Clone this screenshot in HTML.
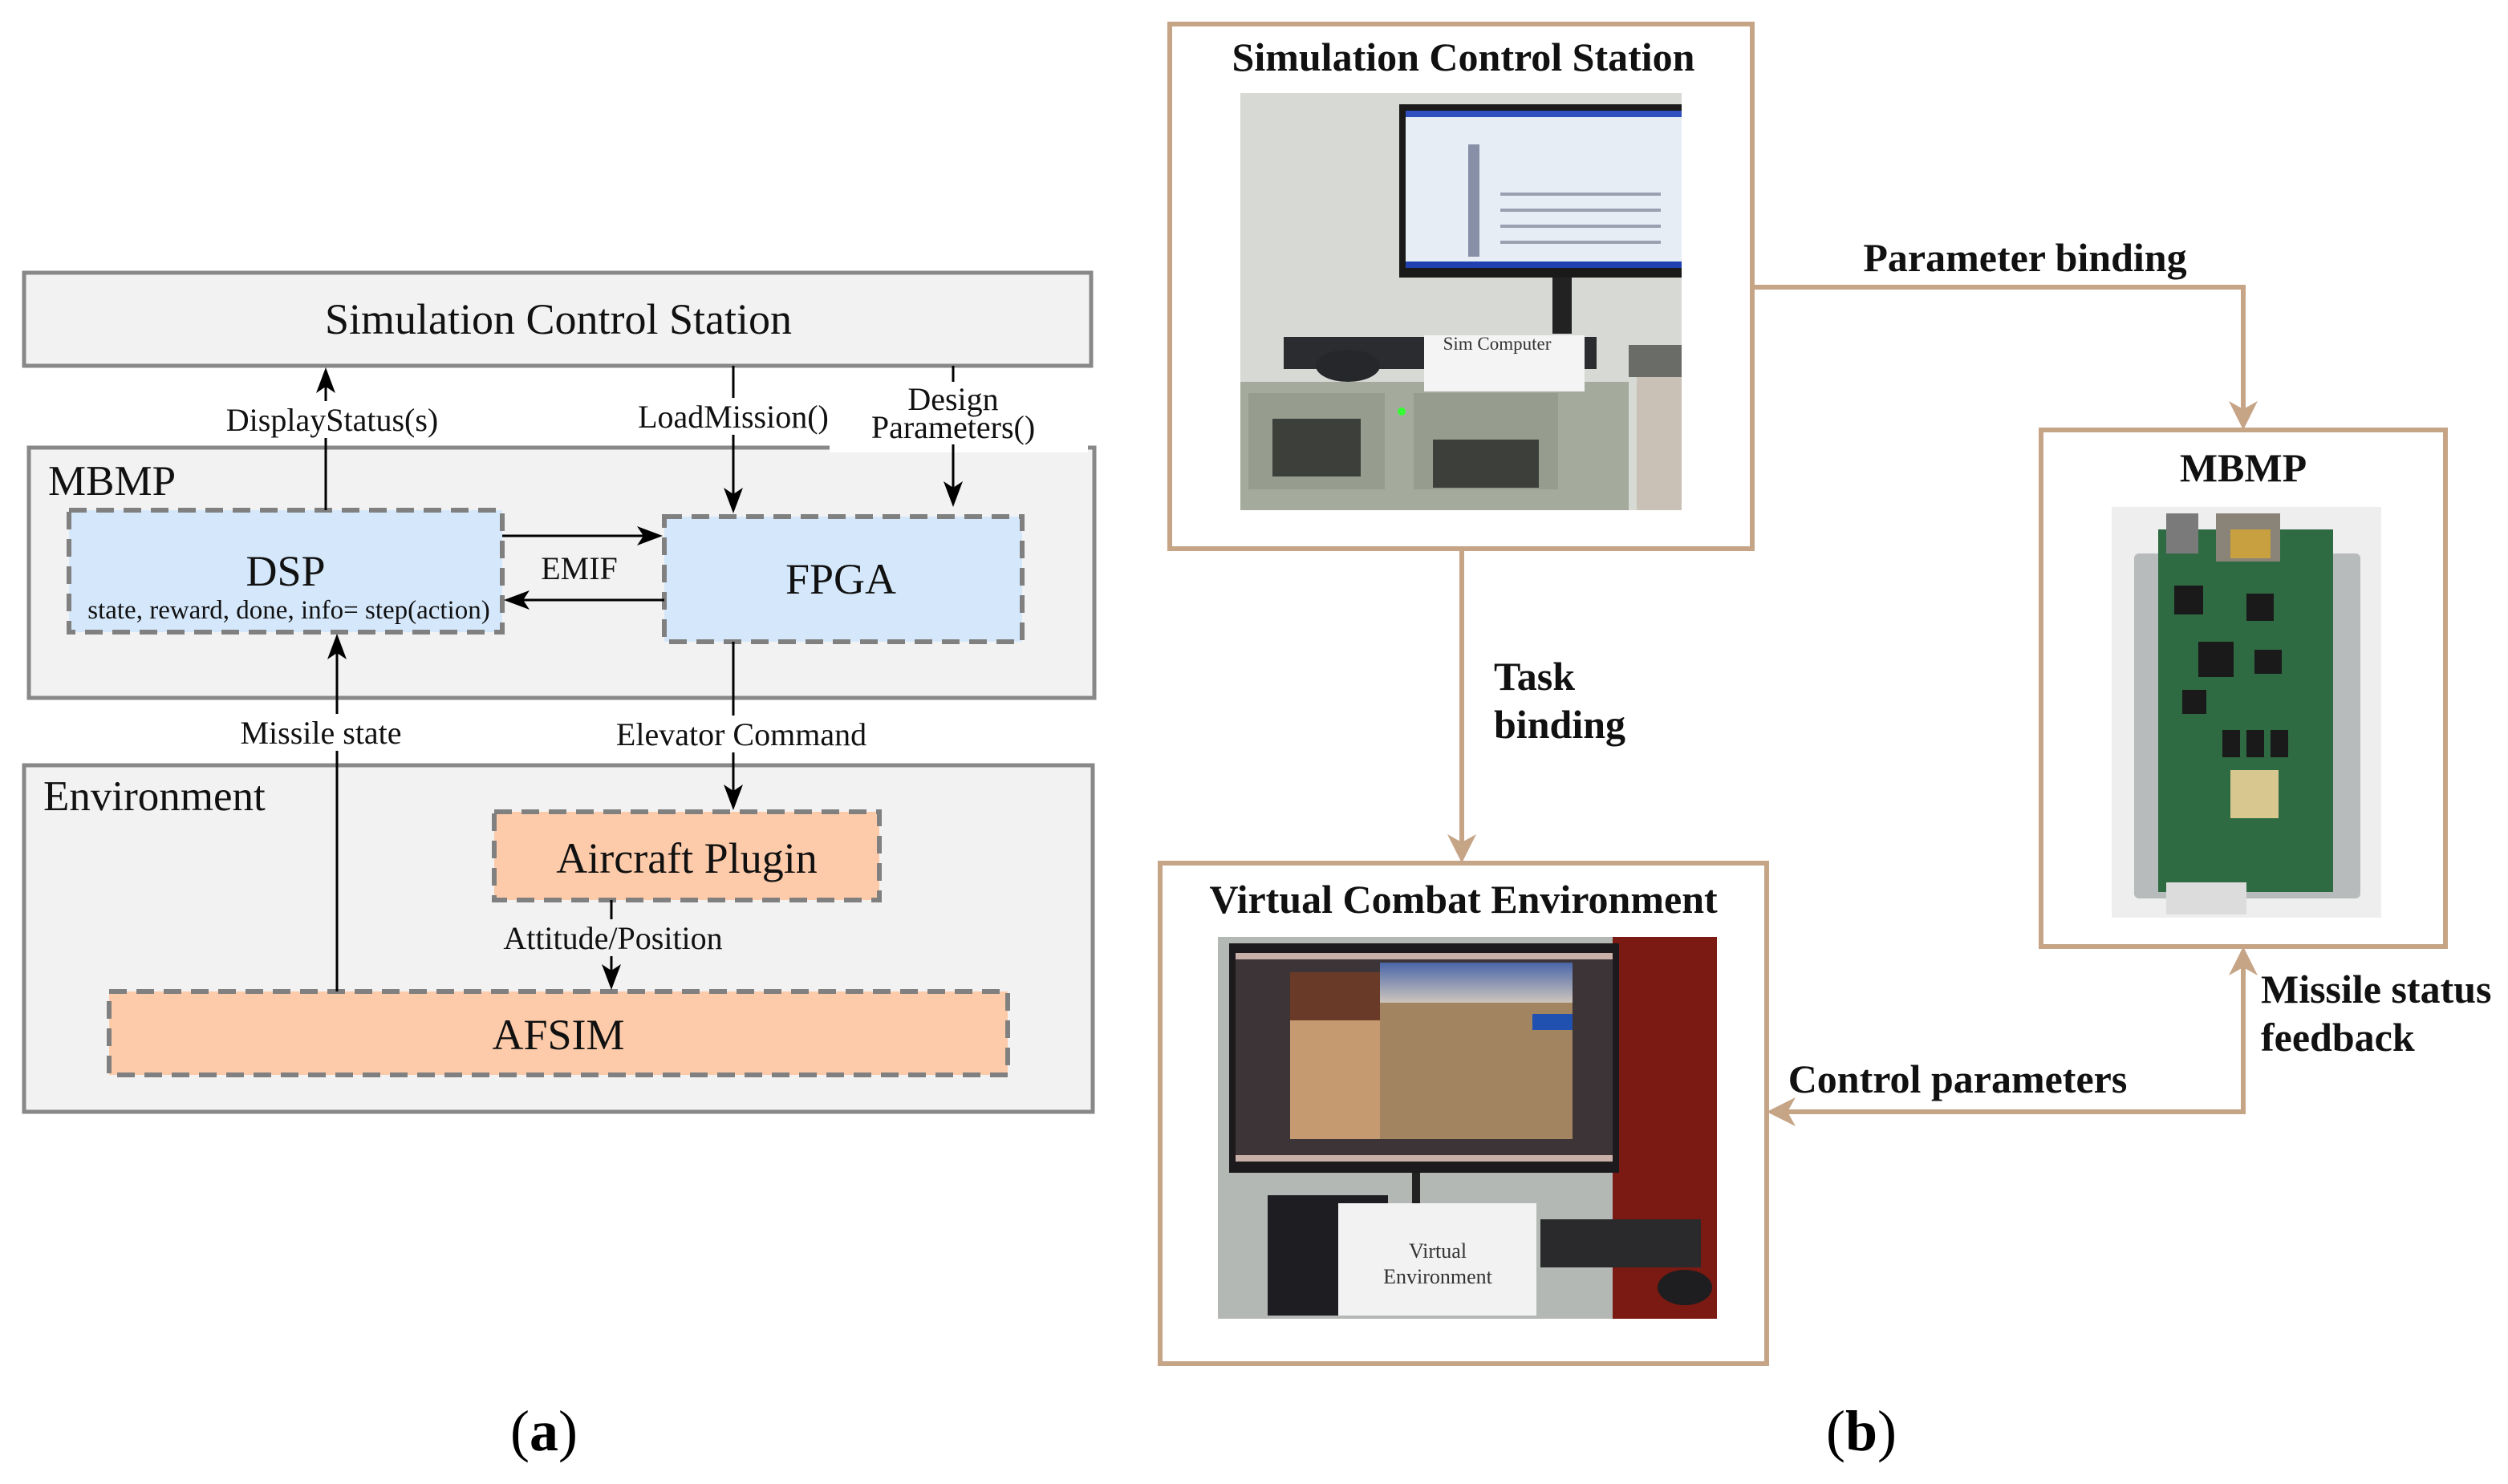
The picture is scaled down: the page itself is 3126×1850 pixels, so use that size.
<!DOCTYPE html>
<html><head><meta charset="utf-8"><style>html,body{margin:0;padding:0;background:#fff}svg{display:block}</style></head><body>
<svg width="3126" height="1850" viewBox="0 0 3126 1850" xmlns="http://www.w3.org/2000/svg" font-family="'Liberation Serif', serif">
<!-- LEFT PANEL -->
<g stroke="#888" stroke-width="5" fill="#f2f2f2">
<rect x="30" y="340" width="1330" height="116"/>
<rect x="36" y="558" width="1328" height="312"/>
<rect x="30" y="954" width="1332" height="432"/>
</g>
<rect x="1034" y="550" width="322" height="14" fill="#fff"/>
<g stroke="#808080" stroke-width="6" stroke-dasharray="22,12">
<rect x="86" y="636" width="540" height="152" fill="#d5e8fb"/>
<rect x="828" y="644" width="446" height="156" fill="#d5e8fb"/>
<rect x="616" y="1012" width="480" height="110" fill="#fdcbaa"/>
<rect x="136" y="1236" width="1120" height="104" fill="#fdcbaa"/>
</g>
<g stroke="#000" stroke-width="3" fill="none">
<line x1="406" y1="636" x2="406" y2="462"/>
<line x1="914" y1="456" x2="914" y2="636"/>
<line x1="1188" y1="456" x2="1188" y2="628"/>
<line x1="626" y1="668" x2="822" y2="668"/>
<line x1="828" y1="748" x2="632" y2="748"/>
<line x1="420" y1="1236" x2="420" y2="794"/>
<line x1="914" y1="800" x2="914" y2="1006"/>
<line x1="762" y1="1122" x2="762" y2="1230"/>
</g>
<g fill="#000">
<path d="M406 458 L394 490 L406 482 L418 490Z"/>
<path d="M914 640 L902 608 L914 616 L926 608Z"/>
<path d="M1188 632 L1176 600 L1188 608 L1200 600Z"/>
<path d="M826 668 L794 656 L802 668 L794 680Z"/>
<path d="M628 748 L660 736 L652 748 L660 760Z"/>
<path d="M420 790 L408 822 L420 814 L432 822Z"/>
<path d="M914 1010 L902 978 L914 986 L926 978Z"/>
<path d="M762 1234 L750 1202 L762 1210 L774 1202Z"/>
</g>
<g fill="#fff">
<rect x="270" y="500" width="290" height="46"/>
<rect x="780" y="496" width="270" height="46"/>
<rect x="1066" y="476" width="244" height="78"/>
<rect x="290" y="890" width="220" height="46"/>
<rect x="756" y="892" width="336" height="46"/>
</g>
<rect x="616" y="1146" width="296" height="46" fill="#f2f2f2"/>
<g font-size="54" text-anchor="middle" fill="#111">
<text x="696" y="416">Simulation Control Station</text>
<text x="356" y="730">DSP</text>
<text x="1048" y="740">FPGA</text>
<text x="856" y="1088">Aircraft Plugin</text>
<text x="696" y="1308">AFSIM</text>
</g>
<g font-size="53" fill="#111">
<text x="60" y="617">MBMP</text>
<text x="54" y="1010">Environment</text>
</g>
<g font-size="40" text-anchor="middle" fill="#111">
<text x="414" y="537">DisplayStatus(s)</text>
<text x="914" y="533">LoadMission()</text>
<text x="1188" y="511">Design</text>
<text x="1188" y="546">Parameters()</text>
<text x="722" y="722">EMIF</text>
<text x="400" y="927">Missile state</text>
<text x="924" y="929">Elevator Command</text>
<text x="764" y="1183">Attitude/Position</text>
</g>
<text x="360" y="771" font-size="33" text-anchor="middle" fill="#111">state, reward, done, info= step(action)</text>
<text x="678" y="1808" font-size="72" text-anchor="middle">(<tspan font-weight="bold">a</tspan>)</text>
<text x="2320" y="1808" font-size="72" text-anchor="middle">(<tspan font-weight="bold">b</tspan>)</text>

<!-- RIGHT PANEL -->
<g stroke="#c6a486" stroke-width="6" fill="none">
<rect x="1458" y="30" width="726" height="654"/>
<rect x="2544" y="536" width="504" height="644"/>
<rect x="1446" y="1076" width="756" height="624"/>
<polyline points="2184,358 2796,358 2796,516"/>
<line x1="1822" y1="684" x2="1822" y2="1056"/>
<polyline points="2796,1198 2796,1386 2222,1386"/>
</g>
<g fill="#c6a486">
<path d="M2796 536 L2778 500 L2796 510 L2814 500Z"/>
<path d="M1822 1076 L1804 1040 L1822 1050 L1840 1040Z"/>
<path d="M2796 1180 L2778 1216 L2796 1206 L2814 1216Z"/>
<path d="M2202 1386 L2238 1368 L2228 1386 L2238 1404Z"/>
</g>
<g font-size="50" font-weight="bold" fill="#111">
<text x="1824" y="88" text-anchor="middle">Simulation Control Station</text>
<text x="2796" y="600" text-anchor="middle">MBMP</text>
<text x="1824" y="1138" text-anchor="middle">Virtual Combat Environment</text>
<text x="2524" y="338" text-anchor="middle">Parameter binding</text>
<text x="1862" y="860">Task</text>
<text x="1862" y="920">binding</text>
<text x="2440" y="1362" text-anchor="middle">Control parameters</text>
<text x="2818" y="1250">Missile status</text>
<text x="2818" y="1310">feedback</text>
</g>

<!-- Photo 1 -->
<rect x="1546" y="116" width="550" height="520" fill="#d6d9d4"/>
<rect x="1744" y="130" width="352" height="216" fill="#1a1a1a"/>
<rect x="1752" y="138" width="344" height="196" fill="#e6edf5"/>
<rect x="1752" y="138" width="344" height="8" fill="#3050c0"/>
<rect x="1752" y="326" width="344" height="8" fill="#2040b0"/>
<rect x="1830" y="180" width="14" height="140" fill="#8890a8"/>
<g fill="#9aa0b0"><rect x="1870" y="240" width="200" height="4"/><rect x="1870" y="260" width="200" height="4"/><rect x="1870" y="280" width="200" height="4"/><rect x="1870" y="300" width="200" height="4"/></g>
<rect x="1935" y="346" width="24" height="70" fill="#222"/>
<rect x="1600" y="420" width="390" height="40" fill="#2a2c30"/>
<ellipse cx="1680" cy="456" rx="40" ry="20" fill="#25272a"/>
<rect x="1546" y="476" width="484" height="160" fill="#a4aa9c"/>
<rect x="1556" y="490" width="170" height="120" fill="#969c8e"/>
<rect x="1762" y="490" width="180" height="120" fill="#969c8e"/>
<g fill="#3c3f3a"><rect x="1586" y="522" width="110" height="72"/><rect x="1786" y="548" width="132" height="60"/></g>
<rect x="2040" y="430" width="56" height="206" fill="#c9c0b6"/>
<rect x="2030" y="430" width="66" height="40" fill="#6a6c68"/>
<circle cx="1747" cy="513" r="5" fill="#3f3"/>
<rect x="1775" y="418" width="200" height="70" fill="#f4f4f4"/>
<text x="1866" y="436" font-size="23" text-anchor="middle" fill="#333">Sim Computer</text>

<!-- Photo MBMP -->
<rect x="2632" y="632" width="336" height="512" fill="#eeeeee"/>
<rect x="2660" y="690" width="282" height="430" fill="#b8bbbc" rx="6"/>
<rect x="2690" y="660" width="218" height="452" fill="#2f6b42"/>
<rect x="2700" y="640" width="40" height="50" fill="#7a7a7a"/>
<rect x="2762" y="640" width="80" height="60" fill="#8a8478"/>
<rect x="2780" y="660" width="50" height="36" fill="#c8a040"/>
<g fill="#1a1a1a">
<rect x="2710" y="730" width="36" height="36"/><rect x="2800" y="740" width="34" height="34"/>
<rect x="2740" y="800" width="44" height="44"/><rect x="2810" y="810" width="34" height="30"/>
<rect x="2720" y="860" width="30" height="30"/>
<rect x="2770" y="910" width="22" height="34"/><rect x="2800" y="910" width="22" height="34"/><rect x="2830" y="910" width="22" height="34"/>
</g>
<rect x="2780" y="960" width="60" height="60" fill="#d8c890"/>
<rect x="2700" y="1100" width="100" height="40" fill="#dcdcdc"/>

<!-- Photo 2 -->
<rect x="1518" y="1168" width="622" height="476" fill="#b4b8b4"/>
<rect x="2010" y="1168" width="130" height="476" fill="#7a1a12"/>
<rect x="1532" y="1176" width="486" height="286" fill="#1c1a1c"/>
<rect x="1540" y="1188" width="470" height="260" fill="#3d3438"/>
<rect x="1540" y="1188" width="470" height="8" fill="#c8b0a8"/>
<rect x="1540" y="1440" width="470" height="8" fill="#c8b0a8"/>
<rect x="1608" y="1212" width="112" height="60" fill="#6a3a28"/>
<rect x="1608" y="1272" width="112" height="148" fill="#c69a70"/>
<defs><linearGradient id="sky" x1="0" y1="0" x2="0" y2="1"><stop offset="0" stop-color="#4a66a8"/><stop offset="1" stop-color="#e8d8c0"/></linearGradient></defs>
<rect x="1720" y="1200" width="240" height="60" fill="url(#sky)"/>
<rect x="1720" y="1250" width="240" height="170" fill="#a28460"/>
<rect x="1910" y="1264" width="50" height="20" fill="#2050b0"/>
<rect x="1760" y="1462" width="10" height="60" fill="#222"/>
<rect x="1580" y="1490" width="150" height="150" fill="#1e1e22"/>
<rect x="1920" y="1520" width="200" height="60" fill="#2a2a2c"/>
<ellipse cx="2100" cy="1605" rx="34" ry="22" fill="#1e1e20"/>
<rect x="1668" y="1500" width="247" height="140" fill="#f2f2f2"/>
<text x="1792" y="1568" font-size="26" text-anchor="middle" fill="#333">Virtual</text>
<text x="1792" y="1600" font-size="26" text-anchor="middle" fill="#333">Environment</text>
</svg>
</body></html>
